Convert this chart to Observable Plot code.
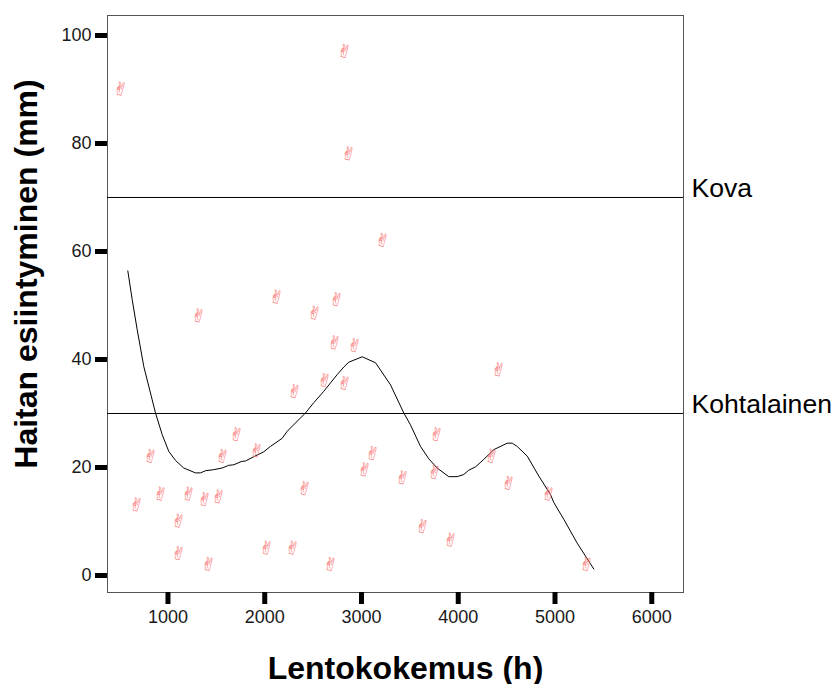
<!DOCTYPE html>
<html><head><meta charset="utf-8">
<style>html,body{margin:0;padding:0;background:#fff}svg{display:block}
g[aria-label="x-axis tick"],g[aria-label="y-axis tick"]{stroke-width:5px}
</style>
<script src="https://cdn.jsdelivr.net/npm/d3@7"></script>
<script src="https://cdn.jsdelivr.net/npm/@observablehq/plot@0.6"></script>
</head><body><script>
const pointX=[509,2824,2865,3217,1315,2121,2741,2514,2721,2928,4416,2307,2617,2824,1708,1563,820,1915,3775,3114,3031,3424,3754,4343,4519,4933,2410,674,922,1212,1377,1522,1108,1108,1419,2018,2287,2680,3630,3920,5326];
const pointY=[90,97,78,62,48,51.5,51,48.5,43,42.5,38,34,36,35.5,26,22,22,23,26,22.5,19.5,18,19,22,17,15,16,13,15,15,14,14.5,10,4,2,5,5,2,9,6.5,2];
const curveX=[585,630,682,750,819,871,940,1008,1078,1163,1284,1336,1388,1473,1560,1628,1680,1757,1801,1887,1990,2059,2180,2232,2421,2507,2610,2749,2817,2869,3007,3145,3300,3437,3506,3610,3696,3782,3902,3989,4057,4109,4178,4264,4367,4506,4558,4609,4713,4833,4953,4988,5091,5229,5315,5401];
const curveY=[56.4,51.1,45.5,38.7,33.8,30.1,26.1,23,21.3,19.9,19,19,19.4,19.6,19.9,20.4,20.5,21.1,21.2,22,22.9,23.9,25.4,26.7,30.1,32,34.1,37.2,38.6,39.5,40.5,39.4,35.3,30.1,27.9,23.9,21.6,19.9,18.3,18.3,18.7,19.5,20.1,21.5,23.3,24.5,24.5,23.9,22.1,18.4,15,13.5,10.4,6,3.6,1.2];
const refValues=[70,30];
const refLabels=["Kova","Kohtalainen"];
const xTicks=[1000,2000,3000,4000,5000,6000];
const yTicks=[0,20,40,60,80,100];
const points=pointX.map((x,i)=>({x,y:pointY[i]}));
const curve=curveX.map((x,i)=>({x,y:curveY[i]}));
const font="Liberation Sans, Arial, sans-serif";
const plot=Plot.plot({
  width:834,height:684,marginLeft:107,marginRight:151,marginTop:15,marginBottom:92,
  style:{fontFamily:font,background:"#fff",overflow:"visible"},
  x:{domain:[375,6328]},y:{domain:[-3.15,103.7]},
  marks:[
    Plot.frame({stroke:"#555",strokeWidth:1}),
    Plot.ruleY(refValues,{stroke:"#000",strokeWidth:1}),
    Plot.axisX(xTicks,{anchor:"bottom",tickSize:12,tickPadding:6,stroke:"#000",fontSize:18,fill:"#1a1a1a",tickFormat:d=>String(d),label:null}),
    Plot.axisY(yTicks,{anchor:"left",tickSize:12,tickPadding:4,stroke:"#000",fontSize:18,fill:"#1a1a1a",tickFormat:d=>String(d),label:null}),
    Plot.line(curve,{x:"x",y:"y",stroke:"#000",strokeWidth:1,curve:"linear"}),
    Plot.text(points,{x:"x",y:"y",text:()=>"\u270C",fill:"#fb7070",fontSize:18,rotate:14,fontFamily:"DejaVu Sans"}),
    Plot.text(refLabels,{x:()=>6328,y:(d,i)=>refValues[i],text:d=>d,textAnchor:"start",dx:8,dy:-9,fontSize:26.6,fill:"#000"}),
    Plot.text(["Lentokokemus (h)"],{frameAnchor:"bottom",dy:86,dx:10,fontSize:32,fontWeight:"bold",fill:"#000",text:d=>d}),
    Plot.text(["Haitan esiintyminen (mm)"],{frameAnchor:"left",textAnchor:"middle",rotate:-90,dx:-81,dy:-30,fontSize:32,fontWeight:"bold",fill:"#000",text:d=>d})
  ]
});
document.body.append(plot);
</script></body></html>
